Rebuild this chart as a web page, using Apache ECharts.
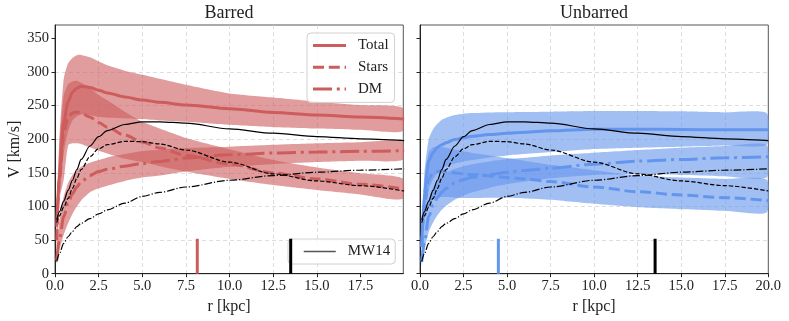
<!DOCTYPE html>
<html>
<head>
<meta charset="utf-8">
<script src="https://cdn.jsdelivr.net/npm/echarts@6/dist/echarts.min.js"></script>
<style>html,body{margin:0;padding:0;background:#fff;}#c{width:789px;height:321px;}</style>
</head>
<body>
<div id="c"></div>
<script>
// ---- data ----
const r     = [0.1, 0.25, 0.5, 0.75, 1, 1.25, 1.5, 2, 2.5, 3, 4, 5, 6, 7.5, 10, 12.5, 15, 17.5, 20];
const rBand = [0.1, 0.25, 0.5, 0.75, 1, 1.25, 1.5, 2, 2.5, 3, 4, 5, 6, 7.5, 10, 12.5, 15, 17.5, 19.9];

// Barred
const barTotal   = [70, 150, 226, 256, 270, 276, 279, 277, 273, 269, 263, 258.5, 255, 251, 245.5, 240, 236, 233, 230];
const barTotalHi = [100, 200, 290, 313, 321, 325, 325.5, 322, 316, 310, 302, 296, 290, 281, 268, 262, 256, 251, 247];
const barTotalLo = [45, 110, 180, 212, 228, 234, 237, 236, 233, 232, 231, 230, 228, 226, 221.5, 218, 216, 214, 212];
const barStars   = [50, 140, 210, 232, 239, 240.5, 239, 233, 225, 218, 206, 196, 187, 176, 163, 150, 141, 133, 126];
const barStarsHi = [70, 190, 265, 282, 286, 287, 284, 276, 266, 258, 241, 226, 216, 202, 185, 169, 158, 149.5, 142];
const barStarsLo = [30, 110, 140, 191, 194, 194, 193, 188, 183, 179, 171, 166, 160, 152, 141, 132, 124.6, 118, 111];
const barDM      = [20, 50, 85, 105, 119, 129, 137, 146, 152, 155.5, 160, 164, 167, 172, 177, 179.5, 181, 182, 183];
const barDMHi    = [30, 80, 115, 135, 147, 154, 159, 165, 169, 173, 178, 182.5, 184.5, 187, 189, 191.7, 194, 195.6, 196.6];
const barDMLo    = [15, 35, 58, 75, 89, 100, 109, 121, 127, 131, 138, 143, 146, 152, 159, 163, 166, 168, 169];

// Unbarred
const unbTotal   = [40, 120, 168, 180, 188, 192, 195, 199.5, 202.5, 204.5, 207, 209, 210.5, 212.5, 215, 215, 214.5, 214, 214];
const unbTotalHi = [60, 150, 200, 215, 223, 229, 232, 236, 238, 239, 240, 240.3, 240.6, 241, 242, 242, 241.5, 240, 239];
const unbTotalLo = [25, 90, 125, 140, 150, 156, 160, 164, 167, 169, 173, 176, 178, 181, 185.5, 187.5, 189, 190.7, 191.7];
const unbStars   = [40, 100, 140, 150, 152, 152.5, 152, 150, 148.5, 147.5, 145.5, 143, 141, 137, 129, 122, 117, 113, 108.7];
const unbStarsHi = [55, 135, 180, 188, 189, 188.5, 187.5, 184.5, 182, 179.5, 176, 172, 168, 162, 154, 146, 143, 141, 140];
const unbStarsLo = [25, 70, 100, 110, 114, 114, 114, 113, 112.5, 112.5, 113, 113, 112, 110, 104, 99, 96, 93.5, 91];
const unbDM      = [18, 45, 85, 102, 113, 121, 127, 135, 140, 143.5, 147.5, 151, 153.5, 157, 163, 167.5, 170, 172.5, 174];
const unbDMHi    = [28, 70, 110, 128, 138, 145, 150, 156, 160, 163, 167, 170.5, 172.5, 176, 180, 184, 187.5, 190, 191.5];
const unbDMLo    = [12, 35, 62, 76, 87, 95, 101, 110, 116, 121, 128, 133, 137, 142, 147, 148, 147, 145, 143];

// MW14 reference model
const mwTotal = [80, 92, 108, 124, 139, 155, 170, 190, 204, 213, 222, 226, 226, 224, 215.5, 209, 204, 200.6, 198];
const mwStars = [76, 86, 99, 112, 127, 142, 155, 174, 186, 192, 197, 196.5, 193, 184, 166, 148.5, 138, 131, 123];
const mwDM    = [18, 30, 45, 55, 63, 70, 75, 82, 89, 95, 105, 115, 121, 129, 139, 146, 151, 154, 156];

// vertical markers [r position], height in km/s
const markBarred = [8.15];
const markUnbarred = [4.5];
const markMW = [13.5];
const markHeight = [0, 52];

// ticks
const xTicks = [0, 2.5, 5, 7.5, 10, 12.5, 15, 17.5, 20];
const yTicks = [0, 50, 100, 150, 200, 250, 300, 350];
const titles = ['Barred', 'Unbarred'];

// ---- styling ----
const RED = '#CD5C5C', BLUE = '#6495ED', INK = '#222';
const FONT = '"Liberation Serif", "DejaVu Serif", serif';
const dashThick = [11, 4.8], dashDotThick = [19, 4.8, 3, 4.8];
const dashThin = [4.4, 1.9], dashDotThin = [7.7, 1.9, 1.2, 1.9];

function band(ax, lo, hi, color) {
  return {
    type: 'custom', xAxisIndex: ax, yAxisIndex: ax, clip: true, silent: true, z: 1,
    data: rBand.map((x, i) => [x, lo[i], hi[i]]),
    encode: { x: 0, y: [1, 2] },
    renderItem: function (p, api) {
      if (p.dataIndex !== 0) return null;
      const pts = [];
      for (let i = 0; i < rBand.length; i++) pts.push(api.coord([rBand[i], hi[i]]));
      for (let i = rBand.length - 1; i >= 0; i--) pts.push(api.coord([rBand[i], lo[i]]));
      return { type: 'polygon', shape: { points: pts, smooth: 0.2 }, style: { fill: color, opacity: 0.6 } };
    }
  };
}
function line(ax, name, vals, color, width, type, z) {
  return {
    type: 'line', name: name, xAxisIndex: ax, yAxisIndex: ax,
    data: r.map((x, i) => [x, vals[i]]),
    symbol: 'none', smooth: 0.3, smoothMonotone: 'x', silent: true, z: z,
    lineStyle: { color: color, width: width, type: type, cap: 'butt' },
    itemStyle: { color: color }
  };
}
function marker(ax, pos, color) {
  return {
    type: 'line', name: 'marker', xAxisIndex: ax, yAxisIndex: ax, symbol: 'none', silent: true, z: 6,
    data: markHeight.map(v => [pos[0], v]),
    lineStyle: { color: color, width: 3 }
  };
}

const series = [
  // barred
  line(0, 'Total', barTotal, RED, 3, 'solid', 3),
  line(0, 'Stars', barStars, RED, 3, dashThick, 3),
  line(0, 'DM', barDM, RED, 3, dashDotThick, 3),
  band(0, barTotalLo, barTotalHi, RED),
  band(0, barStarsLo, barStarsHi, RED),
  band(0, barDMLo, barDMHi, RED),
  line(0, 'MW14', mwTotal, '#000', 1.2, 'solid', 5),
  line(0, 'MW14 stars', mwStars, '#000', 1.2, dashThin, 5),
  line(0, 'MW14 DM', mwDM, '#000', 1.2, dashDotThin, 5),
  marker(0, markBarred, RED),
  marker(0, markMW, '#000'),
  // unbarred
  band(1, unbTotalLo, unbTotalHi, BLUE),
  band(1, unbStarsLo, unbStarsHi, BLUE),
  band(1, unbDMLo, unbDMHi, BLUE),
  line(1, 'Total', unbTotal, BLUE, 3, 'solid', 3),
  line(1, 'Stars', unbStars, BLUE, 3, dashThick, 3),
  line(1, 'DM', unbDM, BLUE, 3, dashDotThick, 3),
  line(1, 'MW14', mwTotal, '#000', 1.2, 'solid', 5),
  line(1, 'MW14 stars', mwStars, '#000', 1.2, dashThin, 5),
  line(1, 'MW14 DM', mwDM, '#000', 1.2, dashDotThin, 5),
  marker(1, markUnbarred, BLUE),
  marker(1, markMW, '#000')
];

function splitLine() {
  return { show: true, showMinLine: false, showMaxLine: false, lineStyle: { color: '#d6d6d6', width: 0.8, type: [4, 3] } };
}
function xAxis(ax, max) {
  const t = xTicks.filter(v => v <= max);
  return {
    gridIndex: ax, type: 'value', min: 0, max: max, interval: 2.5,
    axisLine: { show: true, lineStyle: { color: INK, width: 1 } },
    axisTick: { show: true, length: 3.5, customValues: t, lineStyle: { color: INK } },
    axisLabel: { customValues: t, formatter: v => v.toFixed(1), fontFamily: FONT, fontSize: 14.5, color: INK, margin: 5 },
    splitLine: splitLine(),
    name: 'r [kpc]', nameLocation: 'middle', nameGap: 21,
    nameTextStyle: { fontFamily: FONT, fontSize: 16, color: INK }
  };
}
function yAxis(ax, showLabel) {
  return {
    gridIndex: ax, type: 'value', min: 0, max: 370, interval: 50,
    axisLine: { show: true, lineStyle: { color: INK, width: 1 } },
    axisTick: { show: true, length: 3.5, customValues: yTicks, lineStyle: { color: INK } },
    axisLabel: { show: showLabel, customValues: yTicks, fontFamily: FONT, fontSize: 14.5, color: INK, margin: 6 },
    splitLine: splitLine(),
    name: showLabel ? 'V [km/s]' : '', nameLocation: 'middle', nameGap: 32,
    nameTextStyle: { fontFamily: FONT, fontSize: 16, color: INK }
  };
}

const legendBase = {
  orient: 'vertical', selectedMode: false,
  backgroundColor: 'rgba(255,255,255,0.85)', borderColor: '#d0d0d0', borderWidth: 1, borderRadius: 4,
  itemWidth: 33, itemHeight: 12,
  itemStyle: { opacity: 0 },
  textStyle: { fontFamily: FONT, fontSize: 15, color: INK, padding: [0, 0, 0, 7] }
};

const option = {
  animation: false,
  backgroundColor: '#fff',
  title: [
    { text: titles[0], left: 229, top: 4, padding: 0, textAlign: 'center', textStyle: { fontFamily: FONT, fontSize: 18, fontWeight: 'normal', color: INK } },
    { text: titles[1], left: 594, top: 4, padding: 0, textAlign: 'center', textStyle: { fontFamily: FONT, fontSize: 18, fontWeight: 'normal', color: INK } }
  ],
  grid: [
    { left: 55, top: 25, width: 348.3, height: 248.7, show: true, borderColor: '#555', borderWidth: 1 },
    { left: 420, top: 25, width: 348.3, height: 248.7, show: true, borderColor: '#555', borderWidth: 1 }
  ],
  xAxis: [xAxis(0, 19.95), xAxis(1, 20)],
  yAxis: [yAxis(0, true), yAxis(1, false)],
  legend: [
    Object.assign({}, legendBase, {
      data: ['Total', 'Stars', 'DM'], left: 307, top: 33, itemGap: 6.7, padding: [5, 6, 6, 4.5],
      lineStyle: { width: 3 }
    }),
    Object.assign({}, legendBase, {
      data: [{ name: 'MW14', lineStyle: { color: '#555', width: 1.5 } }], left: 288, top: 239, padding: [5, 5, 5, 15],
      itemWidth: 32
    })
  ],
  series: series
};

const chart = echarts.init(document.getElementById('c'), null, { renderer: 'canvas' });
chart.setOption(option);
</script>
</body>
</html>
